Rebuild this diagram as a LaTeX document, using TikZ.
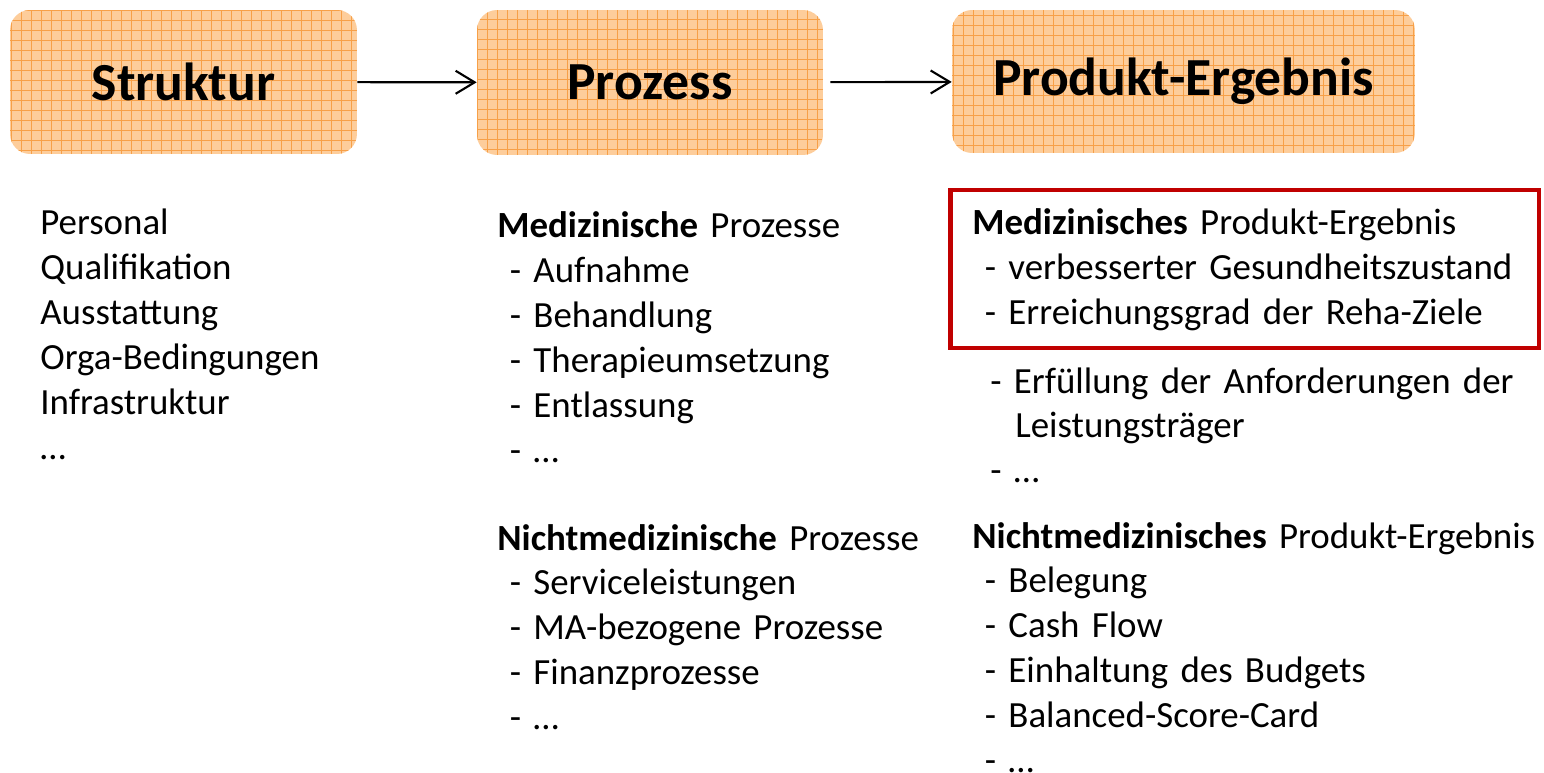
\documentclass[tikz,border=0pt]{standalone}
\usepackage{fontspec}
\setmainfont{Carlito}
\usepackage{tikz}
\usetikzlibrary{arrows.meta,positioning}
\definecolor{kasten}{RGB}{253,205,155}
\definecolor{raster}{RGB}{247,160,72}
\definecolor{rahmenrot}{RGB}{192,0,0}
\newcommand{\ein}{\hspace*{0.25cm}}
\tikzset{
  stufe/.style={rounded corners=0.4cm, fill=kasten, inner sep=0pt,
    font=\fontsize{30.5}{36}\selectfont\bfseries,
    path picture={\draw[raster, line width=0.4pt]
      (path picture bounding box.south west) grid[step=0.2cm]
      (path picture bounding box.north east);}},
  fluss/.style={-{Straight Barb[length=0.38cm,width=0.46cm]}, line width=1.2pt},
  liste/.style={align=left, text width=12cm, inner sep=0pt, anchor=base west,
    font=\fontsize{21}{25.6}\selectfont},
  rahmen/.style={draw=rahmenrot, line width=2.8pt, inner sep=0pt}
}
\begin{document}
\begin{tikzpicture}[x=0.02cm, y=-0.02cm]
  \useasboundingbox (0,0) rectangle (1544,773);
  % die drei Stufen
  \node[stufe, minimum width=6.94cm, minimum height=2.88cm] (struktur) at (183.5,82) {Struktur};
  \node[stufe, minimum width=6.92cm, minimum height=2.90cm] (prozess) at (650,82.5) {Prozess};
  \node[stufe, minimum width=9.26cm, minimum height=2.86cm] (ergebnis) at (1183.5,81.5) {Produkt-Ergebnis};
  \draw[fluss] (struktur) -- (prozess);
  \draw[fluss, shorten <=0.14cm] (prozess) -- (ergebnis);
  % Struktur
  \node[liste] (strukturliste) at (40,235)
    {Personal\\Qualifikation\\Ausstattung\\Orga-Bedingungen\\Infrastruktur\\…};
  % Prozess
  \node[liste] (medproz) at (497,238)
    {\textbf{Medizinische} Prozesse\\\ein- Aufnahme\\\ein- Behandlung\\
     \ein- Therapieumsetzung\\\ein- Entlassung\\\ein- …};
  \node[liste] (nichtmedproz) at (497,550)
    {\textbf{Nichtmedizinische} Prozesse\\\ein- Serviceleistungen\\
     \ein- MA-bezogene Prozesse\\\ein- Finanzprozesse\\\ein- …};
  % Produkt-Ergebnis
  \node[rahmen, minimum width=11.78cm, minimum height=3.16cm] (rahmen) at (1244.5,269) {};
  \node[liste] (medprod) at (972,235)
    {\textbf{Medizinisches} Produkt-Ergebnis\\\ein- verbesserter Gesundheitszustand\\
     \ein- Erreichungsgrad der Reha-Ziele};
  \node[liste] (leistung) at (990,393)
    {- Erfüllung der Anforderungen der\\\hspace*{0.5cm}Leistungsträger\\- …};
  \node[liste] (nichtmedprod) at (972,548)
    {\textbf{Nichtmedizinisches} Produkt-Ergebnis\\\ein- Belegung\\\ein- Cash Flow\\
     \ein- Einhaltung des Budgets\\\ein- Balanced-Score-Card\\\ein- …};
\end{tikzpicture}
\end{document}
